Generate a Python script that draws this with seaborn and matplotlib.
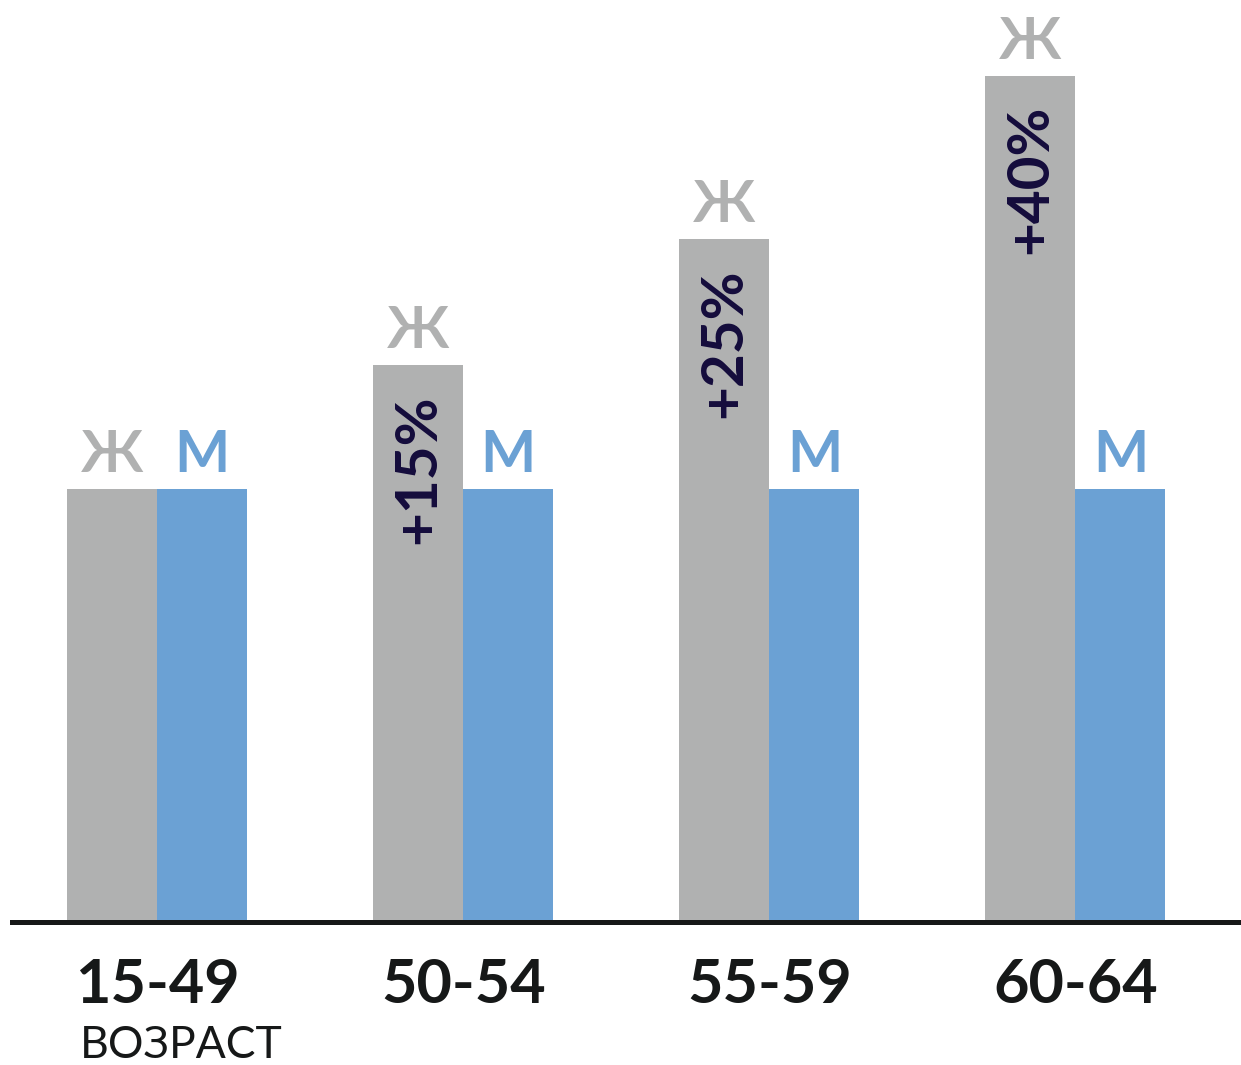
import pandas as pd
import seaborn as sns
import matplotlib.pyplot as plt

# возрастные группы и высоты столбцов (М в 15-49 = 100)
ages = ["15-49", "50-54", "55-59", "60-64"]
women = [100, 128.6, 157.7, 195.4]
men = [100, 100, 100, 100]
growth = ["", "+15%", "+25%", "+40%"]
sexes = ["Ж", "М"]

GRAY = "#b0b1b1"
BLUE = "#6ba1d4"
NAVY = "#140c3c"
DARK = "#161818"

df = pd.DataFrame({
    "age": ages * 2,
    "sex": [sexes[0]] * len(ages) + [sexes[1]] * len(ages),
    "value": women + men,
})

sns.set_theme(style="white")
plt.rcParams["font.family"] = ["Lato", "DejaVu Sans"]

fig = plt.figure(figsize=(12.41, 10.65), dpi=100)
ax = fig.add_axes([12 / 1241, 143 / 1065, 1 - 12 / 1241, 922 / 1065])

sns.barplot(data=df, x="age", y="value", hue="sex", hue_order=sexes, order=ages,
            palette=[GRAY, BLUE], width=0.588, saturation=1, legend=False,
            linewidth=0, ax=ax)

ax.set_xlim(-0.475, 3.541)
ax.set_ylim(0, 212.9)

for spine in ["top", "left", "right"]:
    ax.spines[spine].set_visible(False)
ax.spines["bottom"].set_linewidth(3.6)
ax.spines["bottom"].set_color(DARK)
ax.set_yticks([])
ax.set_xlabel("")
ax.set_ylabel("")
ax.tick_params(axis="x", length=0, pad=25)
for lbl in ax.get_xticklabels():
    lbl.set_fontsize(44)
    lbl.set_fontweight("bold")
    lbl.set_color(DARK)

for container, sex, color in zip(ax.containers, sexes, [GRAY, BLUE]):
    for bar in container:
        x = bar.get_x() + bar.get_width() / 2
        top = bar.get_height()
        ax.annotate(sex, (x, top), xytext=(0, 12), textcoords="offset points",
                    ha="center", va="baseline", fontsize=42, fontweight="bold",
                    color=color)

for bar, txt in zip(ax.containers[0], growth):
    if not txt:
        continue
    x = bar.get_x() + bar.get_width() / 2
    ax.annotate(txt, (x, bar.get_height()), xytext=(0, -21), textcoords="offset points",
                ha="center", va="top", rotation=90, fontsize=42, fontweight="bold",
                color=NAVY)

fig.text(80 / 1241, 7 / 1065, "ВОЗРАСТ", ha="left", va="baseline", fontsize=32,
         color=DARK)

fig.savefig("out.png", dpi=100)
